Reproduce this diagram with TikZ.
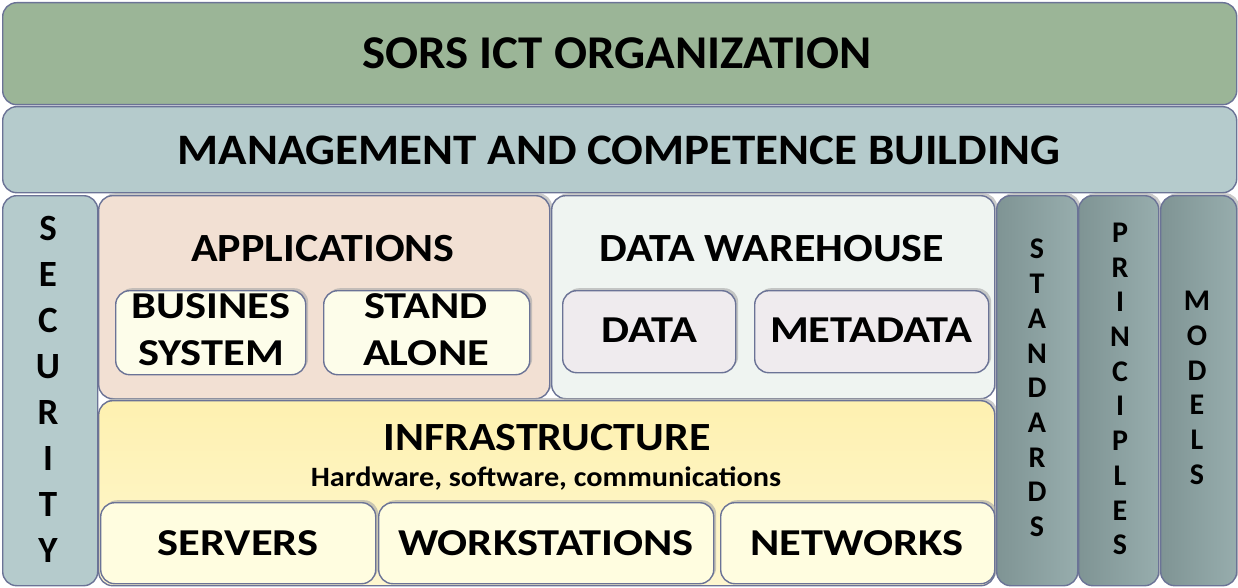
\documentclass[tikz,border=0pt]{standalone}
\usepackage{fontspec}
\setmainfont{Carlito}
\newfontfamily\fsA[FakeStretch=1.04]{Carlito}
\newfontfamily\fsB[FakeStretch=1.1]{Carlito}
\newfontfamily\fsC[FakeStretch=1.17]{Carlito}
\newfontfamily\fsD[FakeStretch=1.08]{Carlito}
\usetikzlibrary{shadows}
\definecolor{bordercol}{HTML}{6B7396}
\definecolor{orgfill}{HTML}{9BB597}
\definecolor{mgmtfill}{HTML}{B5CBCC}
\definecolor{appfill}{HTML}{F2E0D3}
\definecolor{appinner}{HTML}{FDFDEA}
\definecolor{dwfill}{HTML}{EFF4F1}
\definecolor{dwinner}{HTML}{EFEBEE}
\definecolor{infrafill}{HTML}{FEF1B0}
\definecolor{infrainner}{HTML}{FFFDE0}
\definecolor{stdleft}{HTML}{7F9494}
\definecolor{stdright}{HTML}{97ADAD}
\tikzset{
  blk/.style={draw=bordercol, line width=1.4pt, rounded corners=14pt, inner sep=0pt, anchor=north west},
  shad/.style={drop shadow={shadow xshift=2.5pt, shadow yshift=2.5pt, fill=gray!70, opacity=0.6}},
  lbl/.style={font=\bfseries, text=black, inner sep=0pt, align=center},
  big/.style={lbl, font=\fontsize{47}{50}\fsA\bfseries},
  mid/.style={lbl, font=\fontsize{40}{44}\fsB\bfseries},
  inn/.style={lbl, font=\fontsize{38}{47}\fsC\bfseries},
  vsec/.style={lbl, font=\fontsize{37}{46}\selectfont\bfseries},
  vstd/.style={lbl, font=\fontsize{30}{34.7}\selectfont\bfseries},
}
\begin{document}
\begin{tikzpicture}[x=1pt,y=-1pt]
\useasboundingbox (0,0) rectangle (1238,588);
% top bands
\node[blk, fill=orgfill, minimum width=1234pt, minimum height=102pt] (org) at (2,2) {};
\node[big] (orgt) at (617,53) {SORS ICT ORGANIZATION};
\node[blk, fill=mgmtfill, minimum width=1234pt, minimum height=86pt] (mgmt) at (2,106) {};
\node[lbl, font=\fontsize{43.5}{48}\fsD\bfseries] (mgmtt) at (619,150) {MANAGEMENT AND COMPETENCE BUILDING};
% security
\node[blk, fill=mgmtfill, minimum width=95pt, minimum height=390pt] (sec) at (2,195) {};
\node[vsec] (sect) at (48,389) {S\\E\\C\\U\\R\\I\\T\\Y};
% applications
\node[blk, shad, fill=appfill, minimum width=451pt, minimum height=203pt] (app) at (98,195) {};
\node[mid] (appt) at (323,249) {APPLICATIONS};
\node[blk, shad, fill=appinner, minimum width=190pt, minimum height=84pt] (bus) at (115,290) {};
\node[inn] (bust) at (211,330) {BUSINES\\SYSTEM};
\node[blk, shad, fill=appinner, minimum width=206pt, minimum height=84pt] (sta) at (323,290) {};
\node[inn] (stat) at (426,330) {STAND\\ALONE};
% data warehouse
\node[blk, shad, fill=dwfill, minimum width=443pt, minimum height=203pt] (dw) at (551,195) {};
\node[mid] (dwt) at (772,249) {DATA WAREHOUSE};
\node[blk, shad, fill=dwinner, minimum width=173pt, minimum height=82pt] (dat) at (562,290) {};
\node[inn] (datt) at (649,330) {DATA};
\node[blk, shad, fill=dwinner, minimum width=234pt, minimum height=82pt] (meta) at (754,290) {};
\node[inn] (metat) at (871,330) {METADATA};
% infrastructure
\node[blk, shad, top color=infrafill, bottom color=infrafill!60!white, minimum width=896pt, minimum height=185pt] (inf) at (98,400) {};
\node[mid] (inft) at (547,438) {INFRASTRUCTURE};
\node[lbl, font=\fontsize{28}{30}\fsD\bfseries] (infs) at (546,479) {Hardware, software, communications};
\node[blk, shad, fill=infrainner, minimum width=275pt, minimum height=81pt] (srv) at (100,502) {};
\node[inn] (srvt) at (238,543) {SERVERS};
\node[blk, shad, fill=infrainner, minimum width=335pt, minimum height=81pt] (wst) at (378,502) {};
\node[inn] (wstt) at (546,543) {WORKSTATIONS};
\node[blk, shad, fill=infrainner, minimum width=274pt, minimum height=81pt] (net) at (720,502) {};
\node[inn] (nett) at (857,543) {NETWORKS};
% right columns
\node[blk, shad, left color=stdleft, right color=stdright, minimum width=81pt, minimum height=390pt] (std) at (996,195) {};
\node[vstd] (stdt) at (1037,388) {S\\T\\A\\N\\D\\A\\R\\D\\S};
\node[blk, shad, left color=stdleft, right color=stdright, minimum width=80pt, minimum height=390pt] (pri) at (1078,195) {};
\node[vstd] (prit) at (1120,389) {P\\R\\I\\N\\C\\I\\P\\L\\E\\S};
\node[blk, shad, left color=stdleft, right color=stdright, minimum width=76pt, minimum height=390pt] (mod) at (1160,195) {};
\node[vstd] (modt) at (1197,388) {M\\O\\D\\E\\L\\S};
\end{tikzpicture}
\end{document}
